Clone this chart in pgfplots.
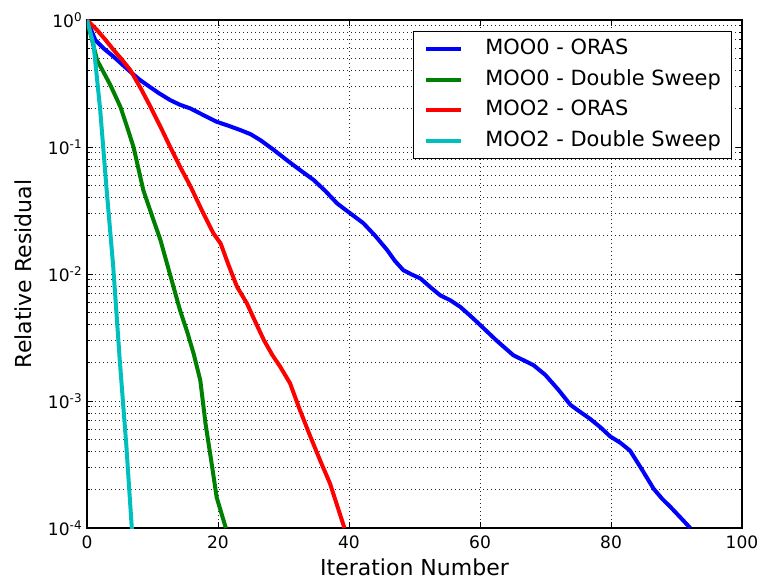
\documentclass[border=0pt]{standalone}
\usepackage{fontspec}
\setmainfont{DejaVu Sans}
\usepackage{pgfplots}
\pgfplotsset{compat=1.18}
\definecolor{mblue}{rgb}{0,0,1}
\definecolor{mgreen}{rgb}{0,0.5,0}
\definecolor{mred}{rgb}{1,0,0}
\definecolor{mcyan}{rgb}{0,0.75,0.75}
\begin{document}
\begin{tikzpicture}
\begin{axis}[
  scale only axis, width=491.25pt, height=381pt,
  xmin=0, xmax=100, ymin=1e-4, ymax=1, ymode=log,
  xtick={0,20,40,60,80,100},
  xticklabels={0,20,40,60,80,100},
  ytick={1e-4,1e-3,1e-2,1e-1,1},
  yticklabels={10\textsuperscript{-4},10\textsuperscript{-3},10\textsuperscript{-2},10\textsuperscript{-1},10\textsuperscript{0}},
  minor ytick={2e-4,3e-4,4e-4,5e-4,6e-4,7e-4,8e-4,9e-4,2e-3,3e-3,4e-3,5e-3,6e-3,7e-3,8e-3,9e-3,2e-2,3e-2,4e-2,5e-2,6e-2,7e-2,8e-2,9e-2,0.2,0.3,0.4,0.5,0.6,0.7,0.8,0.9},
  grid=both,
  major grid style={black!85, line width=0.5pt, dash pattern=on 0.75pt off 2.25pt},
  minor grid style={black!85, line width=0.5pt, dash pattern=on 0.75pt off 2.25pt},
  tick align=inside, major tick length=4.2pt, minor tick length=2.1pt,
  every tick/.style={black, line width=0.75pt},
  axis line style={line width=1pt},
  tick label style={font=\fontsize{12.8}{15}\selectfont},
  xticklabel style={anchor=base, yshift=-15pt},
  xlabel={Iteration Number},
  ylabel={Relative Residual},
  label style={font=\fontsize{16.5}{19}\selectfont},
  xlabel style={at={(axis description cs:0.5,0)}, anchor=base, yshift=-35.25pt},
  ylabel style={at={(axis description cs:0,0.5)}, rotate=0, anchor=base, yshift=41.25pt},
  legend style={at={(1,1)}, anchor=north east, xshift=-7.5pt, yshift=-8.25pt,
    draw=black, line width=0.75pt, inner xsep=8pt, inner ysep=1.8pt,
    font=\fontsize{15.7}{18}\selectfont,
    nodes={inner xsep=0pt, inner ysep=3.95pt, text height=11.5pt, text depth=3.5pt},
    /tikz/every odd column/.append style={column sep=16.5pt}},
  legend cell align=left,
  legend image code/.code={\draw[line width=3pt] (0pt,0pt) -- (26.25pt,0pt);},
  every axis plot/.append style={line width=3pt, line join=round},
]
\addplot[mblue, no markers] coordinates {
(0,1.0) (1.27,0.695) (2.5,0.60) (4.06,0.514) (5.3,0.45) (6.6,0.392) (8,0.34) (9.16,0.308) (11,0.265) (12.7,0.234)
(14.2,0.215) (15.8,0.201) (17.8,0.178) (19.8,0.158) (21.6,0.147) (23.4,0.136) (25,0.126) (26.5,0.113) (28.5,0.095) (30.5,0.0789)
(32.5,0.066) (34.6,0.0550) (36.4,0.045) (38.2,0.0359) (40.2,0.030) (42.2,0.0251) (44,0.020) (45.8,0.0155) (47,0.0127) (48.3,0.0107)
(49.6,0.0099) (50.9,0.00923) (52.4,0.0079) (53.9,0.00681) (55.5,0.0062) (57.0,0.00550) (58.5,0.0047) (60.0,0.00398) (62.5,0.0030) (65.1,0.00229)
(66.6,0.0021) (68.2,0.00191) (70,0.0016) (72,0.00122) (73.8,0.000933) (75.3,0.00082) (76.8,0.000724) (78.4,0.00062) (79.9,0.000525) (81.4,0.00047) (82.9,0.000407)
(84.7,0.00029) (86.5,0.000204) (87.8,0.000170) (89.1,0.000146) (90.6,0.000121) (92.1,0.0001)
};
\addlegendentry{MOO0 - ORAS}
\addplot[mgreen, no markers] coordinates {
(0,1.0) (1.53,0.484) (3.56,0.308) (5.1,0.207) (6.1,0.145) (7.1,0.1) (8.6,0.0457) (9.9,0.029)
(11.2,0.0186) (13.2,0.00794) (14.2,0.00519) (15.3,0.0035) (16.3,0.00234) (17.3,0.00145)
(18.1,0.000661) (19.0,0.00033) (19.8,0.000174) (21.2,0.0001)
};
\addlegendentry{MOO0 - Double Sweep}
\addplot[mred, no markers] coordinates {
(0,1.0) (1.53,0.834) (2.8,0.70) (4.06,0.581) (5.3,0.49) (6.6,0.404) (8.2,0.29) (9.7,0.207) (11.2,0.145) (12.7,0.1)
(14.2,0.07) (15.8,0.049) (17.5,0.032) (19.3,0.0209) (20.4,0.0174) (21.6,0.0118) (22.9,0.00794) (24.4,0.00589) (25.7,0.0042)
(27.0,0.00302) (28.3,0.0023) (29.5,0.00186) (31.0,0.00138) (32.5,0.00085) (34.1,0.000525) (35.6,0.00034) (37.1,0.000224) (38.2,0.000150)
(39.3,0.0001)
};
\addlegendentry{MOO2 - ORAS}
\addplot[mcyan, no markers] coordinates {
(0,1.0) (1,0.64) (2,0.2) (3,0.046) (4,0.0115) (5,0.0021) (6,0.00045) (7,0.000075)
};
\addlegendentry{MOO2 - Double Sweep}
\end{axis}
\pgfresetboundingbox
\path[use as bounding box] (-65.25pt,-38.25pt) rectangle (504.75pt,396pt);
\end{tikzpicture}
\end{document}
